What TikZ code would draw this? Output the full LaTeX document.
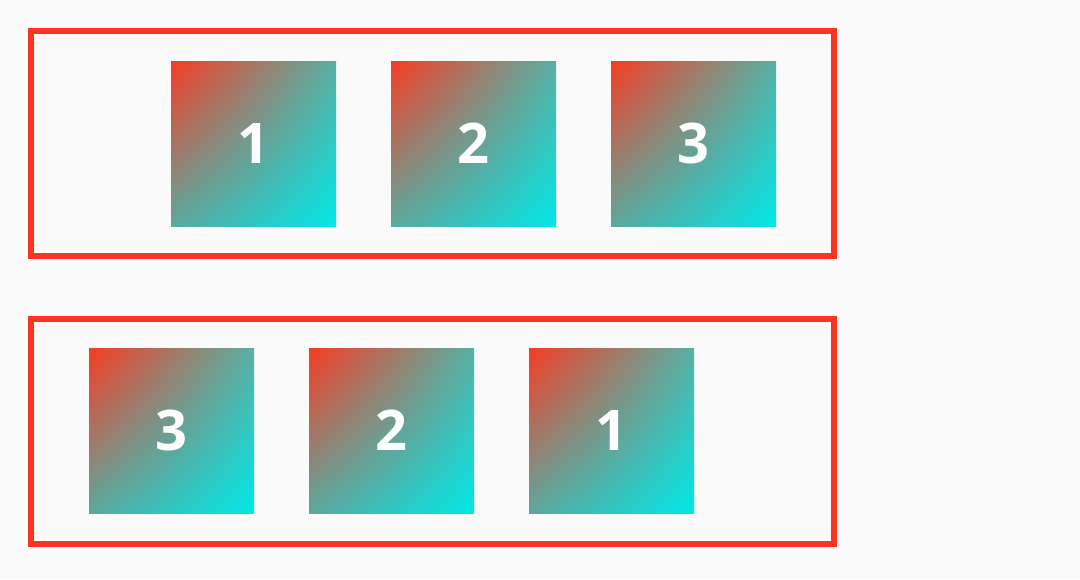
\documentclass[tikz,border=0pt]{standalone}
\usepackage{fontspec}
\setmainfont{Open Sans}
\usepackage{xcolor}
\usetikzlibrary{shadings}
\definecolor{bgcol}{RGB}{250,250,250}
\definecolor{framered}{RGB}{250,52,30}
\definecolor{tilered}{RGB}{247,60,35}
\definecolor{tilecyan}{RGB}{0,232,232}
\definecolor{tilemidA}{RGB}{88,176,164}
\definecolor{tilemidB}{RGB}{92,168,158}

\begin{document}
\begin{tikzpicture}[x=1pt,y=-1pt,
frame/.style={draw=framered,line width=6pt,minimum width=803pt,minimum height=225pt,inner sep=0pt},
tile/.style={shade,upper left=tilered,upper right=tilemidA,lower left=tilemidB,lower right=tilecyan,
minimum size=165pt,inner sep=0pt,text=white,font=\fontsize{56}{60}\selectfont\bfseries}]
\fill[bgcol] (0,0) rectangle (1080,579);
\useasboundingbox (0,0) rectangle (1080,579);
\par
\node[frame] (top) at (432.5,143.5) {};
\node[frame] (bottom) at (432.5,431.5) {};
\par
\node[tile] (a1) at (253.5,143.5) {1};
\node[tile] (a2) at (473.5,143.5) {2};
\node[tile] (a3) at (693.5,143.5) {3};
\node[tile] (b3) at (171.5,430.5) {3};
\node[tile] (b2) at (391.5,430.5) {2};
\node[tile] (b1) at (611.5,430.5) {1};
\par
\end{tikzpicture}
\end{document}
